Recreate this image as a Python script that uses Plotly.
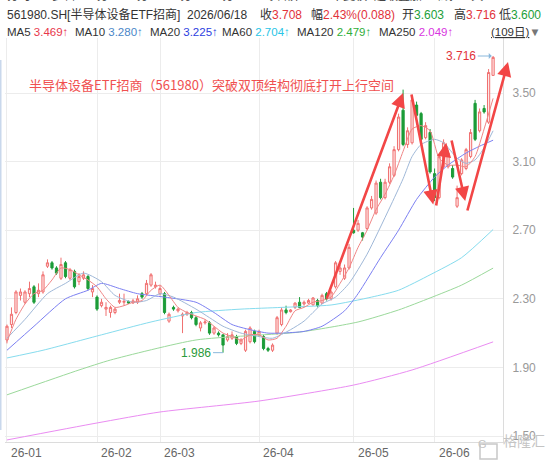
import plotly.graph_objects as go

# ---- candle data (109 trading days, 2026-01 .. 2026-06-18) ----
opens = [2.06, 2.15, 2.22, 2.32, 2.28, 2.33, 2.37, 2.33, 2.34, 2.49,
         2.51, 2.48, 2.42, 2.51, 2.42, 2.46, 2.40, 2.42, 2.43, 2.34,
         2.31, 2.26, 2.24, 2.22, 2.22, 2.28, 2.28, 2.285, 2.276, 2.28,
         2.33, 2.33, 2.38, 2.37, 2.33, 2.33, 2.17, 2.25, 2.23, 2.20,
         2.21, 2.22, 2.19, 2.13, 2.16, 2.16, 2.10, 2.10, 2.09, 2.06,
         2.07, 2.08, 2.04, 2.00, 2.05, 2.11, 2.09, 2.08, 2.01, 2.00,
         2.10, 2.15, 2.235, 2.225, 2.25, 2.28, 2.27, 2.275, 2.265, 2.29,
         2.275, 2.33, 2.30, 2.37, 2.46, 2.42, 2.48, 2.70, 2.70, 2.685,
         2.71, 2.83, 2.80, 2.98, 2.89, 2.98, 3.02, 3.17, 3.40, 3.20,
         3.21, 3.43, 3.38, 3.24, 3.27, 3.03, 2.89, 3.07, 3.07, 3.06,
         2.84, 3.03, 3.06, 3.13, 3.44, 3.28, 3.41, 3.33, 3.603]
highs = [2.15, 2.25, 2.35, 2.36, 2.35, 2.40, 2.38, 2.39, 2.46, 2.53,
         2.52, 2.49, 2.54, 2.52, 2.48, 2.47, 2.45, 2.46, 2.44, 2.38,
         2.32, 2.30, 2.28, 2.26, 2.25, 2.33, 2.33, 2.29, 2.30, 2.32,
         2.34, 2.41, 2.45, 2.40, 2.38, 2.34, 2.22, 2.26, 2.25, 2.22,
         2.23, 2.23, 2.20, 2.17, 2.18, 2.17, 2.14, 2.11, 2.09, 2.10,
         2.11, 2.09, 2.07, 2.12, 2.14, 2.12, 2.12, 2.09, 2.02, 2.04,
         2.20, 2.25, 2.26, 2.24, 2.28, 2.31, 2.29, 2.30, 2.31, 2.30,
         2.33, 2.34, 2.35, 2.52, 2.50, 2.50, 2.62, 2.83, 2.76, 2.69,
         2.84, 2.90, 2.99, 3.00, 3.00, 3.09, 3.19, 3.38, 3.52, 3.30,
         3.49, 3.45, 3.39, 3.33, 3.29, 3.06, 3.14, 3.23, 3.17, 3.08,
         2.96, 3.12, 3.18, 3.29, 3.46, 3.41, 3.43, 3.64, 3.716]
lows = [2.04, 2.13, 2.21, 2.29, 2.27, 2.31, 2.27, 2.31, 2.33, 2.48,
        2.47, 2.44, 2.41, 2.42, 2.41, 2.36, 2.38, 2.41, 2.35, 2.31,
        2.23, 2.25, 2.20, 2.19, 2.21, 2.27, 2.26, 2.27, 2.27, 2.27,
        2.30, 2.32, 2.37, 2.36, 2.32, 2.21, 2.16, 2.23, 2.22, 2.10,
        2.20, 2.18, 2.14, 2.11, 2.15, 2.09, 2.09, 2.08, 1.986, 2.05,
        2.06, 2.03, 2.03, 1.99, 2.04, 2.04, 2.08, 2.00, 1.99, 1.99,
        2.09, 2.14, 2.21, 2.22, 2.24, 2.245, 2.26, 2.27, 2.26, 2.25,
        2.27, 2.29, 2.29, 2.36, 2.44, 2.41, 2.47, 2.68, 2.69, 2.64,
        2.70, 2.82, 2.79, 2.88, 2.88, 2.97, 3.01, 3.16, 3.19, 3.18,
        3.20, 3.36, 3.22, 3.23, 3.03, 2.87, 2.88, 3.06, 3.06, 3.00,
        2.83, 3.02, 3.05, 3.12, 3.22, 3.27, 3.38, 3.32, 3.600]
closes = [2.14, 2.21, 2.34, 2.34, 2.34, 2.36, 2.28, 2.35, 2.44, 2.51,
          2.48, 2.45, 2.50, 2.43, 2.47, 2.37, 2.43, 2.44, 2.36, 2.36,
          2.24, 2.28, 2.25, 2.25, 2.24, 2.29, 2.285, 2.275, 2.288, 2.30,
          2.31, 2.39, 2.44, 2.38, 2.36, 2.22, 2.21, 2.24, 2.24, 2.21,
          2.22, 2.19, 2.15, 2.16, 2.165, 2.10, 2.13, 2.09, 2.03, 2.08,
          2.09, 2.04, 2.06, 2.11, 2.13, 2.05, 2.11, 2.01, 2.00, 2.03,
          2.19, 2.235, 2.22, 2.235, 2.275, 2.25, 2.28, 2.29, 2.305, 2.26,
          2.32, 2.30, 2.34, 2.51, 2.48, 2.48, 2.60, 2.685, 2.74, 2.66,
          2.83, 2.88, 2.975, 2.89, 2.98, 3.07, 3.17, 3.36, 3.20, 3.28,
          3.46, 3.37, 3.23, 3.31, 3.04, 2.89, 3.13, 3.21, 3.15, 3.01,
          2.89, 3.11, 3.17, 3.27, 3.23, 3.39, 3.39, 3.62, 3.708]
days = list(range(len(closes)))

# ---- moving averages (index, value) ----
ma5_idx = list(range(0, 109, 2))
ma5_val = [2.05, 2.18, 2.27, 2.33, 2.35, 2.41, 2.48, 2.47, 2.44, 2.41,
           2.37, 2.30, 2.25, 2.26, 2.28, 2.29, 2.35, 2.38, 2.32, 2.25,
           2.22, 2.20, 2.18, 2.14, 2.10, 2.08, 2.06, 2.09, 2.09, 2.06,
           2.07, 2.14, 2.23, 2.25, 2.28, 2.29, 2.31, 2.39, 2.48, 2.60,
           2.70, 2.82, 2.91, 3.02, 3.16, 3.29, 3.31, 3.28, 3.12, 3.08,
           3.08, 3.07, 3.13, 3.29, 3.469]
ma10_idx = [0, 4, 9, 13, 17, 21, 24, 28, 31, 34, 37, 42, 45, 48, 52, 56, 59,
            63, 66, 70, 73, 76, 80, 85, 88, 90, 92, 95, 97, 100, 102, 104, 106, 108]
ma10_val = [2.07, 2.18, 2.33, 2.39, 2.45, 2.40, 2.32, 2.28, 2.29, 2.33, 2.31,
            2.24, 2.19, 2.14, 2.10, 2.08, 2.07, 2.12, 2.17, 2.27, 2.31, 2.39,
            2.56, 2.83, 3.00, 3.13, 3.20, 3.23, 3.21, 3.12, 3.09, 3.11, 3.18, 3.28]
ma20_idx = [0, 6, 13, 18, 21, 25, 29, 35, 42, 46, 50, 54, 58, 61, 66, 70, 75,
            78, 83, 87, 91, 95, 98, 102, 105, 108]
ma20_val = [2.00, 2.14, 2.30, 2.35, 2.39, 2.36, 2.33, 2.31, 2.28, 2.22, 2.15,
            2.12, 2.10, 2.10, 2.11, 2.14, 2.23, 2.33, 2.54, 2.70, 2.88, 3.01,
            3.08, 3.15, 3.19, 3.225]
ma60_idx = [0, 8, 21, 32, 42, 52, 61, 72, 81, 87, 94, 101, 108]
ma60_val = [1.955, 2.00, 2.09, 2.165, 2.22, 2.24, 2.25, 2.264, 2.31, 2.35,
            2.44, 2.54, 2.704]
ma120_idx = [0, 16, 23, 42, 65, 78, 87, 94, 101, 108]
ma120_val = [1.74, 1.885, 1.943, 2.06, 2.106, 2.165, 2.235, 2.305, 2.38, 2.479]
ma250_idx = [0, 20, 34, 56, 77, 90, 108]
ma250_val = [1.477, 1.576, 1.64, 1.704, 1.797, 1.885, 2.049]

month_idx = [0, 20, 34, 56, 77, 95]
month_lbl = ['26-01', '26-02', '26-03', '26-04', '26-05', '26-06']
price_ticks = [1.50, 1.90, 2.30, 2.70, 3.10, 3.50]

FONT = "Liberation Sans, Arial, Noto Sans CJK SC, sans-serif"
W, H = 554, 462
L, R, T, B = 5, 503, 38, 442


def px(X):
    return (X - L) / (R - L)


def py(Y):
    return (B - Y) / (B - T)


fig = go.Figure()
fig.add_trace(go.Candlestick(
    x=days, open=opens, high=highs, low=lows, close=closes,
    increasing=dict(line=dict(color='#f07070', width=1), fillcolor='rgba(255,215,215,0.6)'),
    decreasing=dict(line=dict(color='#1c9c38', width=1), fillcolor='#1c9c38'),
    whiskerwidth=0, showlegend=False, hoverinfo='skip'))

ma_lines = [
    (ma250_idx, ma250_val, '#ea8cf2'),
    (ma120_idx, ma120_val, '#9bd99b'),
    (ma60_idx, ma60_val, '#86dcee'),
    (ma20_idx, ma20_val, '#7c80f2'),
    (ma10_idx, ma10_val, '#9fb8d8'),
    (ma5_idx, ma5_val, '#f08585'),
]
for xs, ys, col in ma_lines:
    fig.add_trace(go.Scatter(x=xs, y=ys, mode='lines', line=dict(color=col, width=1, shape='spline', smoothing=0.6),
                             showlegend=False, hoverinfo='skip'))

ann = []

# header rows
row1 = [
    (5, '561980.SH[半导体设备ETF招商]'),
    (185, '2026/06/18'),
    (258, '收<span style="color:#e2323a">3.708</span>'),
    (309, '幅<span style="color:#e2323a">2.43%(0.088)</span>'),
    (400, '开<span style="color:#22a03a">3.603</span>'),
    (452, '高<span style="color:#e2323a">3.716</span>'),
    (497, '低<span style="color:#22a03a">3.600</span>'),
]
row2 = [
    (5, 'MA5 <span style="color:#e8364a">3.469↑</span>'),
    (73, 'MA10 <span style="color:#4a86c8">3.280↑</span>'),
    (148, 'MA20 <span style="color:#2c3ee0">3.225↑</span>'),
    (220, 'MA60 <span style="color:#29c5e6">2.704↑</span>'),
    (295, 'MA120 <span style="color:#2fae3a">2.479↑</span>'),
    (377, 'MA250 <span style="color:#d836e0">2.049↑</span>'),
    (489, '<u>(109日)</u><span style="color:#777">▼</span>'),
]
tabs = [(5, '分时'), (50, '多日'), (88, '1分'), (128, '5分'), (165, '15分'), (207, '30分'),
        (262, '综合屏  F9 · 不复权  超级叠加  画线  工具')]
for X, txt in tabs:
    ann.append(dict(x=px(X), y=py(-4), xref='paper', yref='paper', text=txt, showarrow=False,
                    xanchor='left', yanchor='middle', font=dict(family=FONT, size=12, color='#444')))
for X, txt in row1:
    ann.append(dict(x=px(X), y=py(15), xref='paper', yref='paper', text=txt, showarrow=False,
                    xanchor='left', yanchor='middle', font=dict(family=FONT, size=12, color='#333')))
for X, txt in row2:
    ann.append(dict(x=px(X), y=py(32), xref='paper', yref='paper', text=txt, showarrow=False,
                    xanchor='left', yanchor='middle', font=dict(family=FONT, size=11.5, color='#333')))

# month labels, left-aligned at each month's first bar
for i, lbl in zip(month_idx, month_lbl):
    ann.append(dict(x=i, y=py(453), xref='x', yref='paper', text=lbl, showarrow=False,
                    xanchor='left', yanchor='middle', xshift=2,
                    font=dict(family=FONT, size=12, color='#666')))

# headline
ann.append(dict(x=px(27), y=3.48, xref='paper', yref='y', showarrow=False, xanchor='left', yanchor='bottom',
                text='半导体设备ETF招商（561980）突破双顶结构彻底打开上行空间',
                font=dict(family="Noto Sans CJK SC, sans-serif", size=13, color='#f05050')))

# red trend arrows (head -> tail in data coords)
arrows = [
    ((88.0, 3.50), (70.9, 2.293)),
    ((94.7, 2.85), (89.8, 3.50)),
    ((97.6, 3.21), (95.3, 2.835)),
    ((101.8, 2.87), (98.7, 3.232)),
]
for (hx, hy), (tx, ty) in arrows:
    ann.append(dict(x=hx, y=hy, ax=tx, ay=ty, xref='x', yref='y', axref='x', ayref='y', text='',
                    showarrow=True, arrowhead=2, arrowsize=1.1, arrowwidth=2.6, arrowcolor='#f24646'))
ann.append(dict(x=px(508), y=py(62), xref='paper', yref='paper', ax=-41, ay=150, text='',
                showarrow=True, arrowhead=2, arrowsize=1.1, arrowwidth=2.6, arrowcolor='#f24646'))

# high / low markers
ann.append(dict(x=107.7, y=3.716, xref='x', yref='y', ax=-14, ay=0, text='3.716', showarrow=True,
                arrowhead=1, arrowsize=1, arrowwidth=1, arrowcolor='#8ab8dc', xanchor='right',
                font=dict(family=FONT, size=12, color='#e2323a')))
ann.append(dict(x=48, y=1.986, xref='x', yref='y', ax=-10, ay=0, text='1.986', showarrow=True,
                arrowhead=0, arrowwidth=1, arrowcolor='#8ab8dc', xanchor='right',
                font=dict(family=FONT, size=12, color='#2a9a3a')))

# watermark
ann.append(dict(x=px(488.5), y=py(452), xref='paper', yref='paper', text='G', showarrow=False,
                font=dict(family=FONT, size=11, color='#c4c4c4')))
ann.append(dict(x=px(501), y=py(452), xref='paper', yref='paper', text='格隆汇', showarrow=False,
                xanchor='left', font=dict(family="Noto Sans CJK SC, sans-serif", size=14, color='#c4c4c4')))

shapes = [
    dict(type='rect', xref='paper', yref='paper', x0=px(0), x1=px(554), y0=py(0), y1=py(-10),
         fillcolor='#f2f2f2', line=dict(width=0), layer='below'),
    dict(type='rect', xref='paper', yref='paper', x0=px(480), x1=px(497), y0=py(444), y1=py(459),
         line=dict(color='#c8c8c8', width=1.5)),
    dict(type='line', xref='paper', yref='paper', x0=px(0.5), x1=px(0.5), y0=py(60), y1=py(430),
         line=dict(color='#c9d8ec', width=2)),
]

fig.update_layout(
    width=W, height=H,
    margin=dict(l=L, r=W - R, t=T, b=H - B, pad=0),
    paper_bgcolor='white', plot_bgcolor='white',
    font=dict(family=FONT, size=12, color='#333'),
    annotations=ann, shapes=shapes, showlegend=False,
    xaxis=dict(range=[-0.44, 110.2], rangeslider=dict(visible=False), tickmode='array',
               tickvals=month_idx, ticktext=month_lbl, showticklabels=False,
               showgrid=True, gridcolor='#ececec', gridwidth=1, zeroline=False,
               showline=True, linecolor='#dcdcdc', ticks=''),
    yaxis=dict(range=[1.465, 3.821], side='right', tickmode='array', tickvals=price_ticks,
               ticktext=['%.2f' % v for v in price_ticks], showgrid=True, gridcolor='#ececec',
               zeroline=False, showline=True, linecolor='#dcdcdc', ticks='', ticklabelstandoff=6,
               tickfont=dict(size=12, color='#999')),
)

fig.write_html("out.html", config={'displayModeBar': False},
               post_script="document.body.style.margin='0';")
